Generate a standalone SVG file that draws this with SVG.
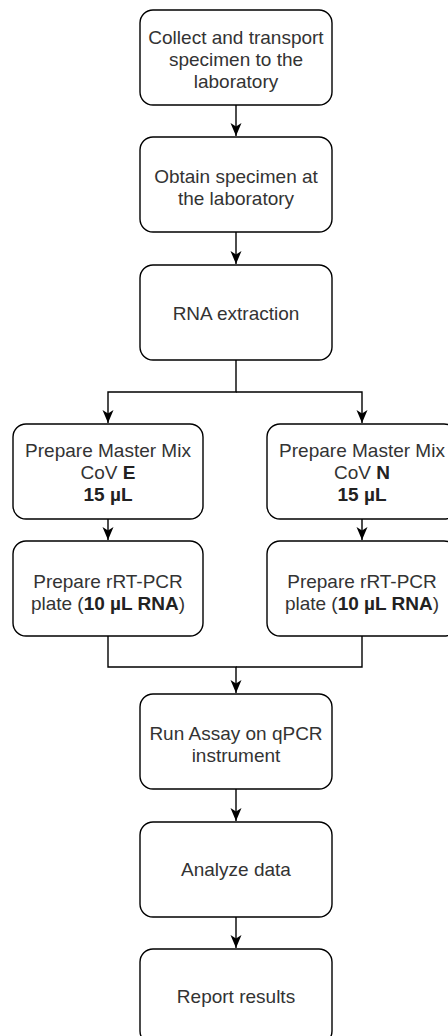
<svg xmlns="http://www.w3.org/2000/svg" width="448" height="1036" viewBox="0 0 448 1036">
<style>
.box{fill:#fff;stroke:#000;stroke-width:1.4}
.t{font-family:"Liberation Sans",Arial,sans-serif;font-size:19px;fill:#333;text-anchor:middle}
.b{font-weight:bold;fill:#222}
.c{fill:none;stroke:#000;stroke-width:1.4}
</style>
<defs>
<marker id="ah" markerUnits="userSpaceOnUse" markerWidth="14" markerHeight="12" refX="13" refY="6" orient="auto">
<path d="M0,0.5 L13,6 L0,11.5 L3.5,6 Z" fill="#000"/>
</marker>
</defs>
<rect width="448" height="1036" fill="#fff"/>
<g id="connectors">
<path class="c" d="M236,105 V136" marker-end="url(#ah)"/>
<path class="c" d="M236,232 V264" marker-end="url(#ah)"/>
<path class="c" d="M236,360 V392 H108 V423" marker-end="url(#ah)"/>
<path class="c" d="M236,392 H362 V423" marker-end="url(#ah)"/>
<path class="c" d="M108,519 V540" marker-end="url(#ah)"/>
<path class="c" d="M362,519 V540" marker-end="url(#ah)"/>
<path class="c" d="M108,636 V667 H236 V693" marker-end="url(#ah)"/>
<path class="c" d="M362,636 V667 H236"/>
<path class="c" d="M236,789 V821" marker-end="url(#ah)"/>
<path class="c" d="M236,917 V948" marker-end="url(#ah)"/>
</g>
<g id="n1">
<rect class="box" x="140" y="10" width="192" height="95" rx="13"/>
<text class="t" x="236" y="44">Collect and transport</text>
<text class="t" x="236" y="66">specimen to the</text>
<text class="t" x="236" y="88">laboratory</text>
</g>
<g id="n2">
<rect class="box" x="140" y="137" width="192" height="95" rx="13"/>
<text class="t" x="236" y="183">Obtain specimen at</text>
<text class="t" x="236" y="205">the laboratory</text>
</g>
<g id="n3">
<rect class="box" x="140" y="265" width="192" height="95" rx="13"/>
<text class="t" x="236" y="320">RNA extraction</text>
</g>
<g id="n4">
<rect class="box" x="13" y="424" width="190" height="95" rx="13"/>
<text class="t" x="108" y="457">Prepare Master Mix</text>
<text class="t" x="108" y="479">CoV <tspan class="b">E</tspan></text>
<text class="t b" x="108" y="501">15 µL</text>
</g>
<g id="n5">
<rect class="box" x="267" y="424" width="190" height="95" rx="13"/>
<text class="t" x="362" y="457">Prepare Master Mix</text>
<text class="t" x="362" y="479">CoV <tspan class="b">N</tspan></text>
<text class="t b" x="362" y="501">15 µL</text>
</g>
<g id="n6">
<rect class="box" x="13" y="541" width="190" height="95" rx="13"/>
<text class="t" x="108" y="588">Prepare rRT-PCR</text>
<text class="t" x="108" y="610">plate (<tspan class="b">10 µL RNA</tspan>)</text>
</g>
<g id="n7">
<rect class="box" x="267" y="541" width="190" height="95" rx="13"/>
<text class="t" x="362" y="588">Prepare rRT-PCR</text>
<text class="t" x="362" y="610">plate (<tspan class="b">10 µL RNA</tspan>)</text>
</g>
<g id="n8">
<rect class="box" x="140" y="694" width="192" height="95" rx="13"/>
<text class="t" x="236" y="740">Run Assay on qPCR</text>
<text class="t" x="236" y="762">instrument</text>
</g>
<g id="n9">
<rect class="box" x="140" y="822" width="192" height="95" rx="13"/>
<text class="t" x="236" y="876">Analyze data</text>
</g>
<g id="n10">
<rect class="box" x="140" y="949" width="192" height="95" rx="13"/>
<text class="t" x="236" y="1003">Report results</text>
</g>
</svg>
